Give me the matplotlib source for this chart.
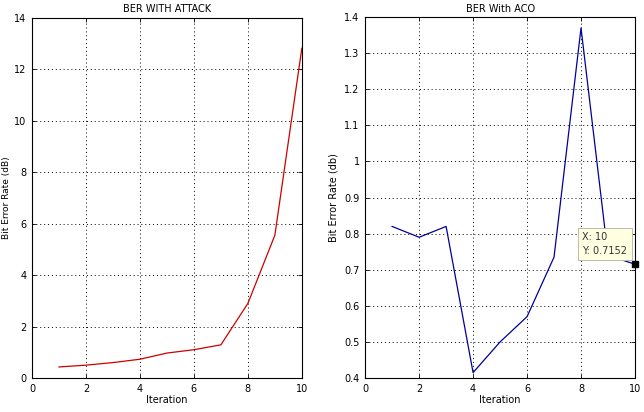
import numpy as np
import matplotlib
matplotlib.use('Agg')
import matplotlib.pyplot as plt

iterations = [1, 2, 3, 4, 5, 6, 7, 8, 9, 10]
ber_attack = [0.43, 0.5, 0.6, 0.73, 0.97, 1.1, 1.29, 2.9, 5.55, 12.82]
ber_aco = [0.82, 0.79, 0.82, 0.415, 0.5, 0.57, 0.735, 1.37, 0.74, 0.7152]

plt.rcParams['font.family'] = 'DejaVu Sans'
plt.rcParams['font.size'] = 7

fig = plt.figure(figsize=(6.44, 4.12), dpi=100)
ax1 = fig.add_axes([0.0497, 0.0825, 0.419, 0.874])
ax2 = fig.add_axes([0.567, 0.0825, 0.419, 0.876])

def style(ax):
    ax.tick_params(direction='in', top=True, right=True, length=3, width=0.6, labelsize=7, pad=4)
    ax.grid(True, linestyle=(0, (1, 3)), color='black', linewidth=0.7)
    for s in ax.spines.values():
        s.set_linewidth(0.8)
    ax.set_xlabel('Iteration', fontsize=7, labelpad=1)

ax1.plot(iterations, ber_attack, color='#cc0000', linewidth=0.9)
ax1.set_xlim(0, 10)
ax1.set_ylim(0, 14)
ax1.set_xticks(np.arange(0, 11, 2))
ax1.set_yticks(np.arange(0, 15, 2))
ax1.set_title('BER WITH ATTACK', fontsize=7, pad=4)
ax1.set_ylabel('Bit Error Rate (dB)', fontsize=6.5)
ax1.yaxis.set_label_coords(-0.078, 0.5)
style(ax1)

ax2.plot(iterations, ber_aco, color='#00009a', linewidth=0.9)
ax2.set_xlim(0, 10)
ax2.set_ylim(0.4, 1.4)
ax2.set_xticks(np.arange(0, 11, 2))
ax2.set_yticks(np.round(np.arange(0.4, 1.41, 0.1), 1))
ax2.set_yticklabels(['0.4', '0.5', '0.6', '0.7', '0.8', '0.9', '1', '1.1', '1.2', '1.3', '1.4'])
ax2.set_title('BER With ACO', fontsize=7, pad=4)
ax2.set_ylabel('Bit Error Rate (db)', fontsize=7, labelpad=4)
style(ax2)

# data tip
ax2.plot([iterations[-1]], [ber_aco[-1]], 's', color='black', markersize=4, clip_on=False, zorder=5)
ax2.annotate('X: 10\nY: 0.7152', xy=(iterations[-1], ber_aco[-1]), xytext=(8.05, 0.738),
             fontsize=7, color='#333333', va='bottom', ha='left', linespacing=1.5, zorder=6,
             bbox=dict(boxstyle='square,pad=0.45', facecolor='#ffffe1', edgecolor='#bbbbaa', linewidth=0.7))

fig.savefig('out.png', dpi=100)
